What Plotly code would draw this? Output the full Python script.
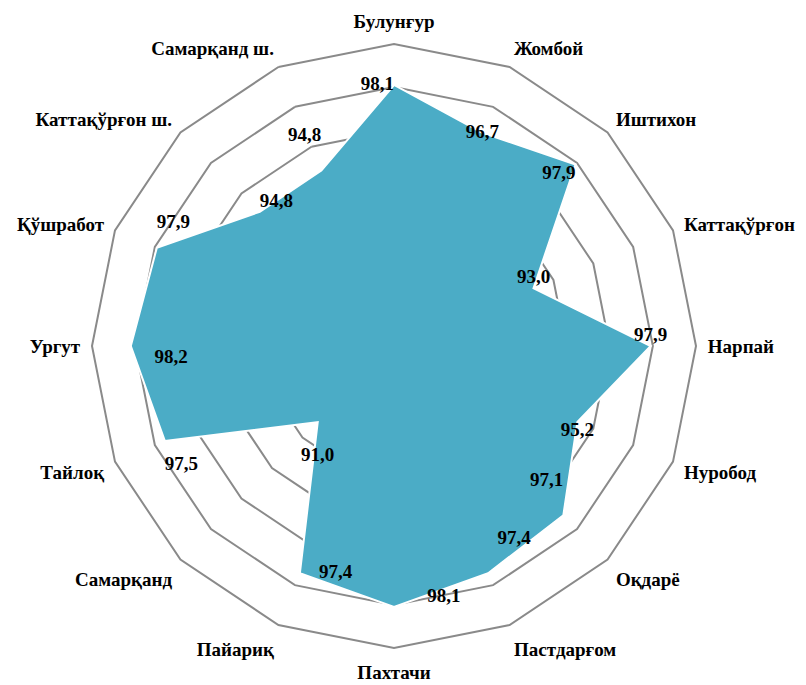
import plotly.graph_objects as go

categories = ["Булунғур", "Жомбой", "Иштихон", "Каттақўрғон", "Нарпай", "Нуробод",
              "Оқдарё", "Пастдарғом", "Пахтачи", "Пайариқ", "Самарқанд", "Тайлоқ",
              "Ургут", "Қўшработ", "Каттақўрғон ш.", "Самарқанд ш."]
values = [98.1, 96.7, 97.9, 93.0, 97.9, 95.2, 97.1, 97.4, 98.1, 97.4, 91.0, 97.5,
          98.2, 97.9, 94.8, 94.8]

# label placement (style only): textposition, blank lines before, blank lines after, left padding
label_pos = ["middle left", "middle center", "bottom left", "top center", "top center",
             "bottom center", "top left", "top right", "top right", "middle right",
             "bottom center", "middle right", "middle right", "middle right", "top right",
             "top left"]
pad_before = [0, 0, 0, 0, 0, 0, 0, 0, 0, 0, 1, 2, 1, 0, 0, 0]
pad_after = [0, 0, 0, 0, 0, 0, 1, 1, 0, 0, 0, 0, 0, 2, 0, 1]
pad_left = [0, 0, 0, 0, 0, 0, 0, 2, 7, 4, 0, 0, 5, 0, 0, 0]

labels = []
for v, b, a, p in zip(values, pad_before, pad_after, pad_left):
    s = "\u00a0" * p + f"{v:.1f}".replace(".", ",")
    s = " <br>" * b + s + "<br> " * a
    labels.append(s)

r = values + [values[0]]
theta = categories + [categories[0]]
text = labels + [""]
tpos = label_pos + [label_pos[0]]

font_family = "Liberation Serif"

cx, cy, R = 386, 338, 302

fig = go.Figure()
fig.add_trace(go.Scatterpolar(
    r=r, theta=theta, mode="lines+text", fill="toself",
    fillcolor="#4BACC6", line=dict(color="white", width=2),
    text=text, textposition=tpos,
    textfont=dict(family=font_family, size=19, color="black", weight="bold"),
    hoverinfo="skip", showlegend=False,
))

fig.update_layout(
    width=806, height=685,
    margin=dict(l=0, r=0, t=0, b=0),
    paper_bgcolor="white",
    polar=dict(
        domain=dict(x=[(cx - R) / 806, (cx + R) / 806],
                    y=[1 - (cy + R) / 685, 1 - (cy - R) / 685]),
        bgcolor="white",
        gridshape="linear",
        radialaxis=dict(range=[86, 100], tick0=86, dtick=2, showticklabels=False,
                        ticks="", showline=False, gridcolor="#8a8a8a", gridwidth=1.5,
                        layer="below traces"),
        angularaxis=dict(direction="clockwise", rotation=90, showgrid=False,
                         linecolor="#8a8a8a", linewidth=2,
                         ticks="outside", ticklen=7, tickcolor="rgba(0,0,0,0)",
                         layer="below traces",
                         tickfont=dict(family=font_family, size=19, color="black",
                                       weight="bold")),
    ),
)

fig.write_html("out.html")
